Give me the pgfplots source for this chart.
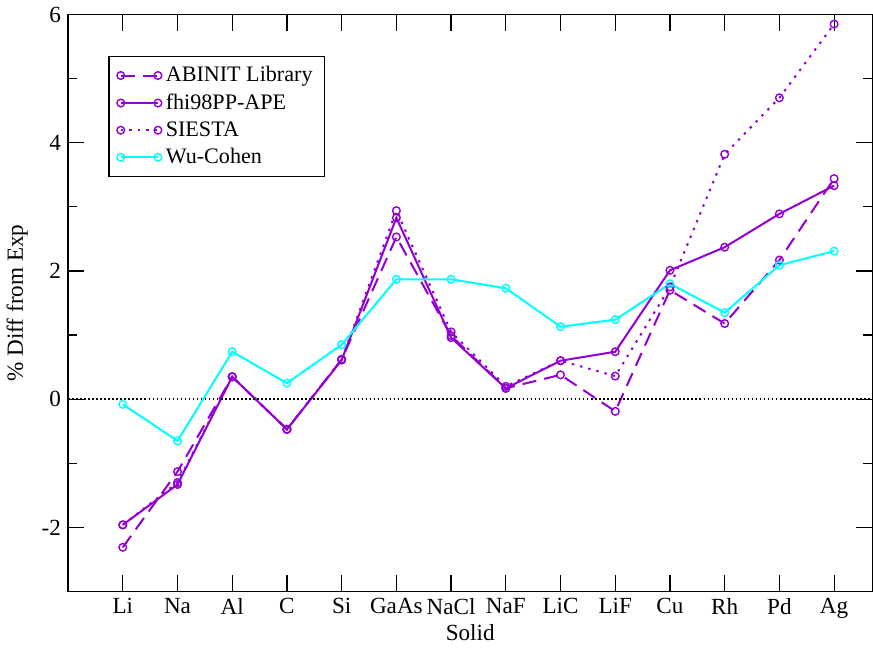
\documentclass[border=0pt]{standalone}
\usepackage{fontspec}
\setmainfont{Liberation Serif}
\usepackage{pgfplots}
\pgfplotsset{compat=1.18}

\definecolor{violetline}{RGB}{148,0,211}
\definecolor{cyanline}{RGB}{0,255,255}

\begin{document}
\begin{tikzpicture}
\begin{axis}[
    scale only axis, width=400pt, height=287pt,
    xmin=0, xmax=14.7, ymin=-3, ymax=6,
    xtick={1,...,14},
    xticklabels={Li,Na,Al,C,Si,GaAs,NaCl,NaF,LiC,LiF,Cu,Rh,Pd,Ag},
    ytick={-2,0,2,4,6}, minor ytick={-3,-1,1,3,5},
    tick align=inside, major tick length=8pt, minor tick length=4.5pt,
    tick style={black, line width=0.6pt},
    axis line style={line width=0.6pt},
    xtick pos=both, ytick pos=both,
    tick label style={font=\fontsize{11.5}{13}\selectfont},
    /pgf/number format/assume math mode=true,
    xlabel={Solid}, ylabel={\% Diff from Exp},
    label style={font=\fontsize{11.5}{13}\selectfont},
    xlabel style={yshift=4pt},
    legend style={at={(20pt,266.5pt)}, anchor=north west, draw=black,
        line width=0.6pt, font=\fontsize{11}{13}\selectfont,
        row sep=0.5pt, inner xsep=4pt, inner ysep=3pt},
    legend cell align=left,
    legend image code/.code={\draw plot coordinates {(0cm,0cm) (0.65cm,0cm)};},
    every axis plot/.append style={line width=1pt, mark=o, mark size=1.9pt,
        mark options={solid, line width=0.7pt}},
]
\addplot[violetline, dash pattern=on 7pt off 4pt] coordinates {
(1,-2.31) (2,-1.13) (3,0.35) (4,-0.47) (5,0.62) (6,2.53) (7,0.99)
(8,0.17) (9,0.38) (10,-0.19) (11,1.70) (12,1.18) (13,2.17) (14,3.44)};
\addlegendentry{ABINIT Library}
\addplot[violetline] coordinates {
(1,-1.96) (2,-1.33) (3,0.35) (4,-0.47) (5,0.61) (6,2.83) (7,0.96)
(8,0.17) (9,0.60) (10,0.74) (11,2.01) (12,2.37) (13,2.89) (14,3.33)};
\addlegendentry{fhi98PP-APE}
\addplot[violetline, dash pattern=on 1.2pt off 3pt] coordinates {
(1,-1.96) (2,-1.30) (3,0.35) (4,-0.47) (5,0.62) (6,2.94) (7,1.05)
(8,0.20) (9,0.60) (10,0.36) (11,1.75) (12,3.82) (13,4.70) (14,5.85)};
\addlegendentry{SIESTA}
\addplot[cyanline] coordinates {
(1,-0.08) (2,-0.65) (3,0.74) (4,0.25) (5,0.85) (6,1.87) (7,1.87)
(8,1.73) (9,1.13) (10,1.24) (11,1.80) (12,1.35) (13,2.09) (14,2.31)};
\addlegendentry{Wu-Cohen}
\addplot[black, line width=0.8pt, dash pattern=on 0.8pt off 1.2pt, mark=none, forget plot]
    coordinates {(0,0) (14.7,0)};
\end{axis}
\end{tikzpicture}
\end{document}
